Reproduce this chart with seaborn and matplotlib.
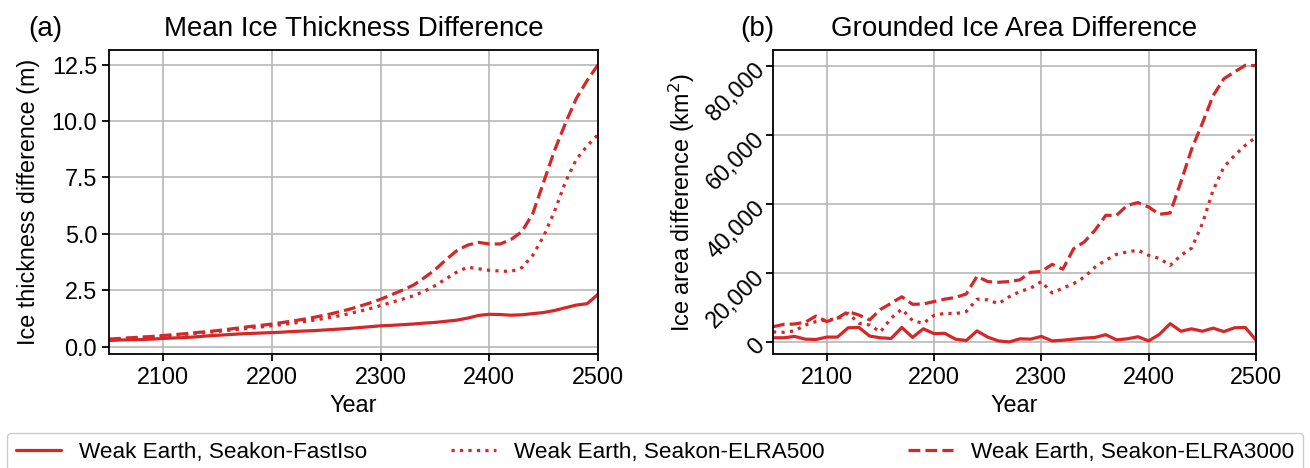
import numpy as np
import pandas as pd
import seaborn as sns
import matplotlib.pyplot as plt
from matplotlib.ticker import FuncFormatter
from matplotlib.lines import Line2D

# model years (every 10 years)
years = list(range(2050, 2501, 10))

# (a) mean ice thickness difference (m)
thick_fastiso = [0.27, 0.29, 0.30, 0.31, 0.33, 0.36, 0.38, 0.40, 0.43, 0.47,
                 0.50, 0.53, 0.56, 0.58, 0.60, 0.62, 0.64, 0.67, 0.69, 0.71,
                 0.74, 0.77, 0.80, 0.84, 0.88, 0.92, 0.94, 0.97, 1.00, 1.04,
                 1.07, 1.12, 1.17, 1.26, 1.38, 1.43, 1.42, 1.39, 1.41, 1.46,
                 1.51, 1.60, 1.72, 1.84, 1.90, 2.32]
thick_elra500 = [0.31, 0.34, 0.37, 0.40, 0.43, 0.46, 0.50, 0.54, 0.58, 0.62,
                 0.67, 0.72, 0.77, 0.82, 0.87, 0.92, 0.98, 1.04, 1.11, 1.18,
                 1.26, 1.35, 1.45, 1.56, 1.68, 1.82, 1.96, 2.10, 2.25, 2.45,
                 2.70, 3.00, 3.30, 3.52, 3.45, 3.38, 3.35, 3.33, 3.50, 4.05,
                 4.90, 6.00, 7.30, 8.30, 8.90, 9.40]
thick_elra3000 = [0.33, 0.36, 0.39, 0.42, 0.45, 0.49, 0.53, 0.57, 0.62, 0.66,
                  0.71, 0.77, 0.83, 0.89, 0.94, 1.00, 1.07, 1.14, 1.22, 1.31,
                  1.40, 1.52, 1.64, 1.78, 1.93, 2.10, 2.30, 2.50, 2.72, 3.05,
                  3.40, 3.85, 4.25, 4.50, 4.62, 4.55, 4.55, 4.75, 5.10, 5.90,
                  7.30, 8.70, 9.90, 11.00, 11.80, 12.50]

# (b) grounded ice area difference (km^2)
area_fastiso = [1300, 1300, 1700, 900, 800, 1500, 1500, 4200, 4300, 1800,
                1300, 1100, 4300, 1400, 3900, 2500, 2600, 900, 500, 3300,
                1500, 400, 100, 1000, 900, 1700, 400, 600, 900, 1200,
                1400, 2200, 700, 1000, 1600, 400, 2300, 5400, 3200, 3900,
                3200, 4100, 3100, 4200, 4300, 600]
area_elra500 = [3000, 2900, 3300, 5000, 6000, 6500, 6800, 8400, 5500, 5000,
                3000, 7000, 9600, 6300, 5500, 7800, 8400, 8300, 8900, 12500,
                12300, 11200, 13200, 14700, 15700, 17600, 14300, 15700, 17000, 18900,
                21800, 23800, 25500, 26200, 26700, 25200, 24300, 22300, 25200, 27300,
                34400, 44100, 50800, 54200, 57100, 59500]
area_elra3000 = [4500, 5200, 5300, 5800, 7600, 6000, 7000, 8900, 7900, 6500,
                 9500, 11300, 13200, 11000, 11100, 11800, 12500, 13000, 14000, 19100,
                 17600, 17400, 17600, 18100, 20300, 20500, 22600, 21200, 27100, 29100,
                 32500, 36800, 36800, 39700, 40500, 39200, 37100, 37500, 46500, 56000,
                 63500, 71500, 76400, 78400, 80300, 80200]

run_names = ['Weak Earth, Seakon-FastIso',
             'Weak Earth, Seakon-ELRA500',
             'Weak Earth, Seakon-ELRA3000']

red = '#d62728'
lw = 2.3
dash_styles = {run_names[0]: '', run_names[1]: (1, 1.65), run_names[2]: (3.7, 1.6)}

thick_df = pd.DataFrame({
    'Year': years * 3,
    'value': thick_fastiso + thick_elra500 + thick_elra3000,
    'Run': [r for r in run_names for _ in years],
})
area_df = pd.DataFrame({
    'Year': years * 3,
    'value': area_fastiso + area_elra500 + area_elra3000,
    'Run': [r for r in run_names for _ in years],
})

sns.set_style('ticks')
plt.rcParams['font.family'] = ['Liberation Sans', 'DejaVu Sans']
plt.rcParams['font.size'] = 16.8
plt.rcParams['text.color'] = 'black'
plt.rcParams['axes.labelcolor'] = 'black'
plt.rcParams['xtick.color'] = 'black'
plt.rcParams['ytick.color'] = 'black'
plt.rcParams['axes.linewidth'] = 1.3
plt.rcParams['xtick.major.width'] = 1.3
plt.rcParams['ytick.major.width'] = 1.3
plt.rcParams['xtick.major.size'] = 5
plt.rcParams['ytick.major.size'] = 5

fig = plt.figure(figsize=(13.1, 4.68), dpi=100)
ax1 = fig.add_axes([0.0832, 0.2436, 0.3733, 0.6485])
ax2 = fig.add_axes([0.5901, 0.2436, 0.3687, 0.6485])

for ax, df in [(ax1, thick_df), (ax2, area_df)]:
    sns.lineplot(data=df, x='Year', y='value', style='Run', dashes=dash_styles,
                 color=red, linewidth=lw, ax=ax, legend=False)
    ax.set_xlim(2050, 2500)
    ax.set_xticks([2100, 2200, 2300, 2400, 2500])
    ax.grid(True, color='#b8b8b8', linewidth=1.2)
    ax.set_axisbelow(True)
    ax.set_xlabel('Year')
    ax.tick_params(labelsize=16.8)
    for s in ax.spines.values():
        s.set_color('black')

# (a)
ax1.set_ylim(-0.33, 13.13)
ax1.set_yticks([0, 2.5, 5, 7.5, 10, 12.5])
ax1.yaxis.set_major_formatter(FuncFormatter(lambda v, p: f'{v:.1f}'))
ax1.set_ylabel('Ice thickness difference (m)', labelpad=8)
ax1.set_title('Mean Ice Thickness Difference', fontsize=20, pad=10.5)
ax1.text(-0.166, 1.0, '(a)', transform=ax1.transAxes, ha='left', va='baseline',
         fontsize=20)
ax1.texts[-1].set_position((-0.166, 1 + 14.5 / 303.5))

# (b)
ax2.set_ylim(-3400, 84600)
ax2.set_yticks([0, 20000, 40000, 60000, 80000])
ax2.yaxis.set_major_formatter(FuncFormatter(lambda v, p: f'{int(v):,}'))
for lab in ax2.get_yticklabels():
    lab.set_rotation(45)
    lab.set_ha('right')
    lab.set_va('center')
    lab.set_rotation_mode('anchor')
ax2.set_ylabel('Ice area difference (km$^2$)')
ax2.set_title('Grounded Ice Area Difference', fontsize=20, pad=10.5)
ax2.text(-0.068, 1 + 14.5 / 303.5, '(b)', transform=ax2.transAxes, ha='left',
         va='baseline', fontsize=20)

handles = [Line2D([], [], color=red, lw=lw, linestyle='-'),
           Line2D([], [], color=red, lw=lw, linestyle=':'),
           Line2D([], [], color=red, lw=lw, linestyle='--')]
fig.legend(handles, run_names, loc='upper left', ncol=3, mode='expand',
           bbox_to_anchor=(0.005, -0.1, 0.99, 0.175), fontsize=16.2,
           frameon=True, edgecolor='#cccccc', fancybox=True, framealpha=1,
           borderaxespad=0, handlelength=2.0)

fig.savefig('out.png', dpi=100)
